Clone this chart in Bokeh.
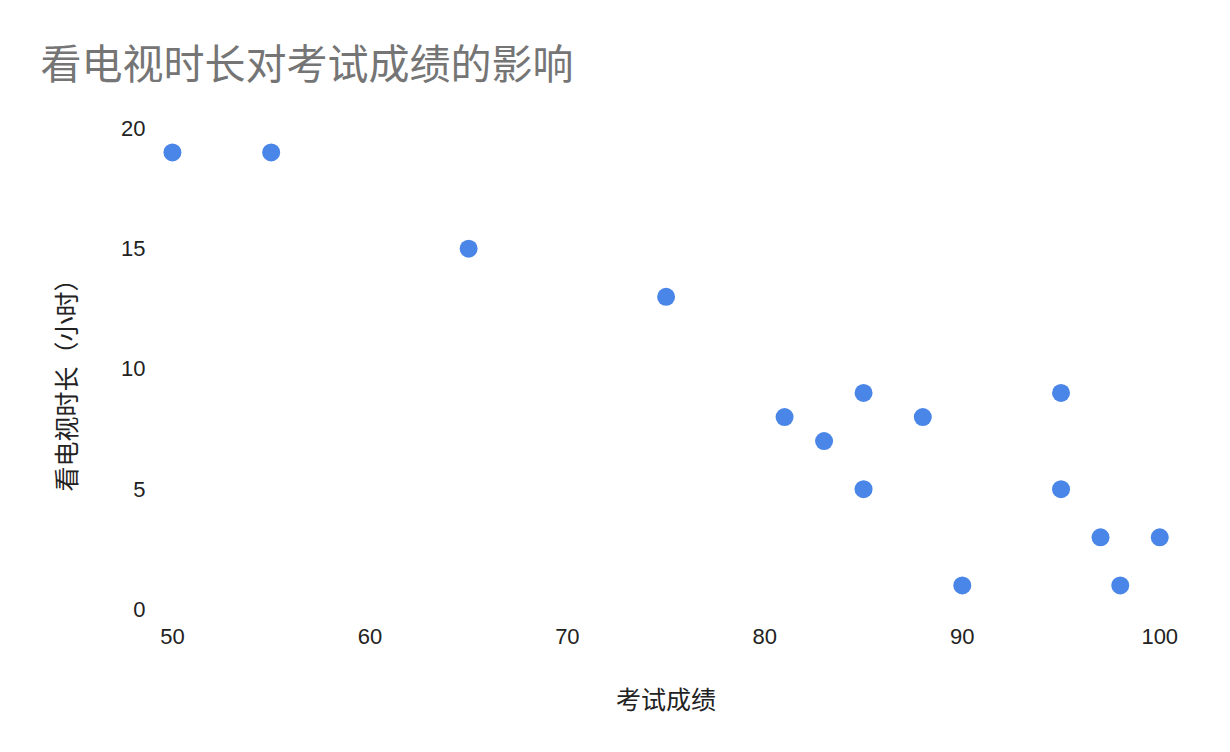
from bokeh.plotting import figure
from bokeh.models import Range1d, FixedTicker, Title
from bokeh.embed import file_html
from bokeh.resources import INLINE

scores = [50, 55, 65, 75, 81, 83, 85, 85, 88, 90, 95, 95, 97, 98, 100]
tv_hours = [19, 19, 15, 13, 8, 7, 9, 5, 8, 1, 9, 5, 3, 1, 3]
x_ticks = [50, 60, 70, 80, 90, 100]
y_ticks = [0, 5, 10, 15, 20]

title = "看电视时长对考试成绩的影响"
x_label = "考试成绩"
y_label = "看电视时长（小时）"

W, H = 1214, 736
p = figure(width=W, height=H, output_backend="svg", toolbar_location=None,
           x_range=Range1d(48.99, 101.0), y_range=Range1d(-0.46, 21.16),
           min_border_left=152, min_border_right=35, min_border_top=100,
           min_border_bottom=116)

p.title.text = title
p.title.text_font = "Noto Sans CJK SC"
p.title.text_font_size = "41px"
p.title.text_font_style = "normal"
p.title.text_color = "#757575"
p.title.offset = -112
p.title.standoff = 19

p.scatter(scores, tv_hours, size=18, color="#4a86e8", line_color=None)

p.outline_line_color = None
p.background_fill_color = "white"
p.border_fill_color = "white"
p.grid.visible = False

for ax in (p.xaxis, p.yaxis):
    ax.axis_line_color = None
    ax.major_tick_line_color = None
    ax.minor_tick_line_color = None
    ax.major_label_text_font = "Liberation Sans"
    ax.major_label_text_font_size = "22px"
    ax.major_label_text_color = "#222222"
    ax.axis_label_text_font = "Noto Sans CJK SC"
    ax.axis_label_text_font_size = "25px"
    ax.axis_label_text_font_style = "normal"
    ax.axis_label_text_color = "#222222"

p.xaxis.ticker = FixedTicker(ticks=x_ticks)
p.yaxis.ticker = FixedTicker(ticks=y_ticks)
p.xaxis.axis_label = x_label
p.xaxis.major_label_standoff = 2
p.yaxis.major_label_standoff = 1
p.xaxis.axis_label_standoff = 33

ytitle = Title(text=y_label, align="left", offset=129, standoff=71,
               text_font="Noto Sans CJK SC", text_font_size="25px",
               text_font_style="normal", text_color="#222222")
p.add_layout(ytitle, "left")

open("out.html", "w").write(file_html(p, INLINE))
